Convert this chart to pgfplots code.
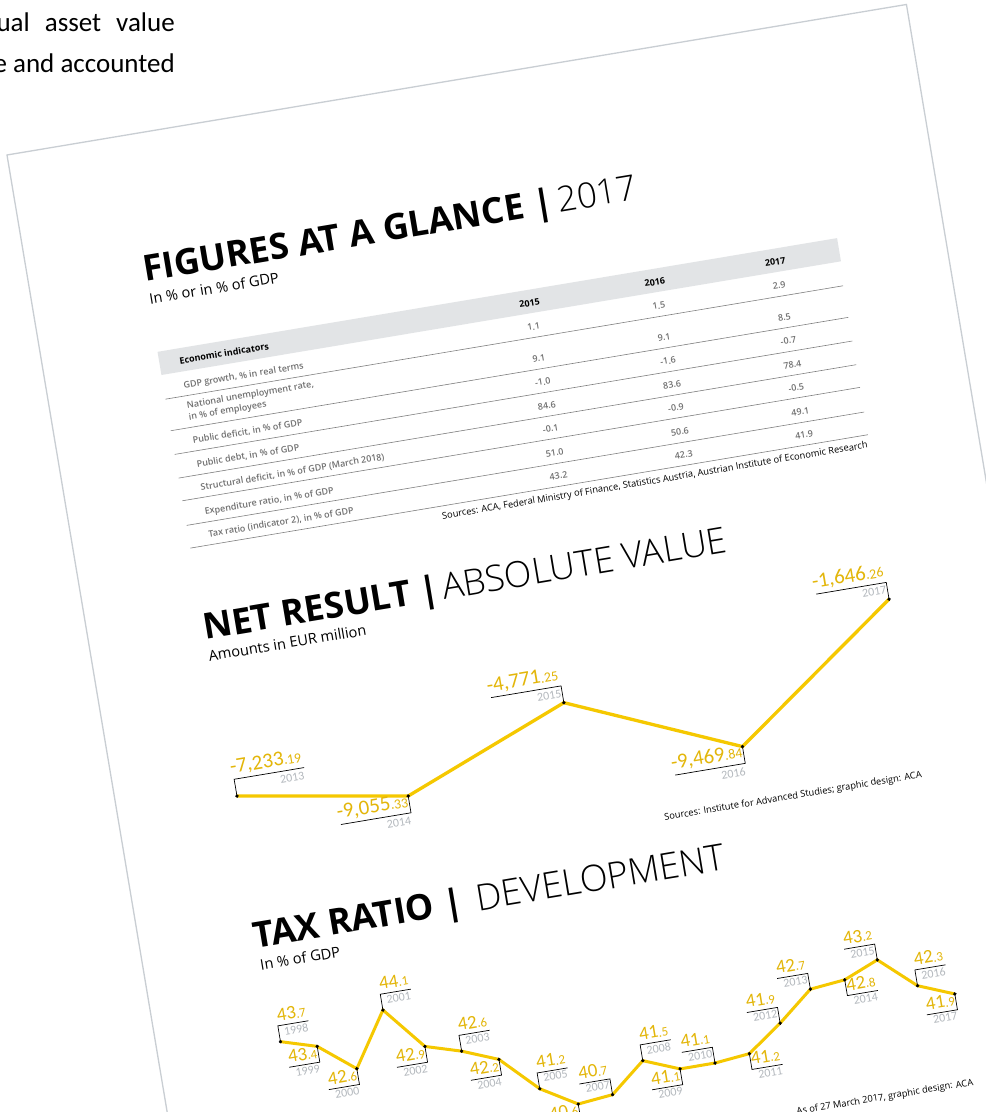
\documentclass[border=0pt]{standalone}
\usepackage{fontspec}
\setmainfont{Open Sans}
\newfontfamily\lightfont{Open Sans Light}
\newfontfamily\semifont{Open Sans Semibold}
\newfontfamily\calfont{Carlito}
\usepackage{pgfplots}
\usepackage{pgfplotstable}
\pgfplotsset{compat=1.18}

\definecolor{pageedge}{HTML}{C9CED3}
\definecolor{band}{HTML}{E2E4E6}
\definecolor{tabtxt}{HTML}{707070}
\definecolor{rule}{HTML}{808080}
\definecolor{aca}{HTML}{F5C800}
\definecolor{acatxt}{HTML}{E3B60A}
\definecolor{yrtxt}{HTML}{B3B8BD}

\newcommand\fs[1]{\fontsize{#1}{#1}\selectfont}

% net result, EUR million; h = side of the underline, v = bracket up or down
\pgfplotstableread{
x y h v
2013 -7233.19 1 1
2014 -9055.33 -1 -1
2015 -4771.25 -1 1
2016 -9469.84 -1 -1
2017 -1646.26 -1 1
}\netdata

% tax ratio, % of GDP
\pgfplotstableread{
x y h v
1998 43.7 1 1
1999 43.4 -1 -1
2000 42.6 -1 -1
2001 44.1 1 1
2002 42.9 -1 -1
2003 42.6 1 1
2004 42.2 -1 -1
2005 41.2 1 1
2006 40.6 -1 -1
2007 40.7 -1 1
2008 41.5 1 1
2009 41.1 -1 -1
2010 41.1 -1 1
2011 41.2 1 -1
2012 41.9 -1 1
2013 42.7 -1 1
2014 42.8 1 -1
2015 43.2 -1 1
2016 42.3 1 1
2017 41.9 -1 -1
}\taxdata

% bracket, value and year at every point
\pgfplotsset{
  callout/.style 2 args={
    scatter, only marks, mark=*, mark size=1.5pt, black,
    point meta=y,
    visualization depends on={\thisrow{h} \as \vH},
    visualization depends on={\thisrow{v} \as \vV},
    visualization depends on={\thisrow{x} \as \vX},
    visualization depends on={\thisrow{y} \as \vY},
    scatter/@pre marker code/.code={%
      \scope
      \pgfmathsetmacro\by{\vV*#1}%
      \pgfmathsetmacro\hx{\vH*#2}%
      \pgfmathsetmacro\rx{max(0,\hx)-1}%
      \pgfmathtruncatemacro\vI{\vY}%
      \pgfmathsetmacro\vD{abs(\vY-(\vI))}%
      \pgfmathtruncatemacro\vYear{\vX}%
      \draw[black, line width=0.7pt] (0pt,0pt) -- (0pt,\by pt) -- (\hx pt,\by pt);
      \node[anchor=base east, inner sep=0pt, text=acatxt]
        at (\rx pt,{\by pt+\gapV}) {\calfont\valA
          \pgfmathprintnumber[assume math mode=true, int detect, 1000 sep={,}]{\vI}%
          \valB\pgfmathprintnumber[assume math mode=true, fixed, fixed zerofill,
            precision=\decP, skip 0.]{\vD}};
      \node[anchor=north east, inner sep=0pt, text=yrtxt]
        at (\rx pt,{\by pt-\gapY}) {\calfont\yrF\vYear};
    },
    scatter/@post marker code/.code={\endscope},
  },
}

\begin{document}
\begin{tikzpicture}[x=1pt, y=1pt]
\useasboundingbox (0,0) rectangle (986,1112);
\clip (0,0) rectangle (986,1112);
\fill[white] (0,0) rectangle (986,1112);

% text of the page underneath
\node[anchor=base east, inner sep=0pt] at (175,1080.3)
  {\calfont\fs{27}ual\hspace{15pt}asset\hspace{15pt}value};
\node[anchor=base east, inner sep=0pt] at (175,1039.3)
  {\calfont\fs{27}e and accounted};

\begin{scope}[shift={(7,957)}, rotate=9.5, transform shape]
\fill[white] (0,-1400) rectangle (912,0);
\draw[pageedge, line width=1.3pt] (0,-1400) -- (0,0) -- (912,0) -- (912,-1400);

% FIGURES AT A GLANCE
\node[anchor=base west, inner sep=0pt] at (115,-148)
  {{\fs{35.8}\bfseries FIGURES AT A GLANCE |}\hspace{5pt}{\lightfont\fs{35}2017}};
\node[anchor=base west, inner sep=0pt] at (116.5,-171) {\fs{14.6}In \% or in \% of GDP};

\fill[band] (116,-219) rectangle (805,-242.5);
\foreach \d in {267,299,323,347,370,395,418}
  \draw[rule, line width=0.6pt] (116,-\d) -- (803,-\d);

\begin{scope}[every node/.style={inner sep=0pt}]
\node[anchor=base west] at (136,-235) {\fs{9}\bfseries Economic indicators};
\node[anchor=base] at (491,-235.5) {\fs{9}\bfseries 2015};
\node[anchor=base] at (618,-235.5) {\fs{9}\bfseries 2016};
\node[anchor=base] at (740,-235.5) {\fs{9}\bfseries 2017};
\foreach \d/\lab/\a/\b/\c in {
  259.5/{GDP growth, \% in real terms}/1.1/1.5/2.9,
  315.5/{Public deficit, in \% of GDP}/-1.0/-1.6/-0.7,
  339.5/{Public debt, in \% of GDP}/84.6/83.6/78.4,
  363/{Structural deficit, in \% of GDP (March 2018)}/-0.1/-0.9/-0.5,
  387.5/{Expenditure ratio, in \% of GDP}/51.0/50.6/49.1,
  410.5/{Tax ratio (indicator 2), in \% of GDP}/43.2/42.3/41.9}{
  \node[anchor=base west, text=tabtxt] at (136,-\d) {\semifont\fs{9}\lab};
  \node[anchor=base, text=tabtxt] at (491,-\d) {\semifont\fs{9}\a};
  \node[anchor=base, text=tabtxt] at (618,-\d) {\semifont\fs{9}\b};
  \node[anchor=base, text=tabtxt] at (740,-\d) {\semifont\fs{9}\c};
}
\node[anchor=base west, text=tabtxt] at (136,-279.5) {\semifont\fs{9}National unemployment rate,};
\node[anchor=base west, text=tabtxt] at (136,-291.5) {\semifont\fs{9}in \% of employees};
\node[anchor=base, text=tabtxt] at (491,-291.5) {\semifont\fs{9}9.1};
\node[anchor=base, text=tabtxt] at (618,-291.5) {\semifont\fs{9}9.1};
\node[anchor=base, text=tabtxt] at (740,-291.5) {\semifont\fs{9}8.5};
\node[anchor=base east] at (801,-431)
  {\fs{9.3}Sources: ACA, Federal Ministry of Finance, Statistics Austria, Austrian Institute of Economic Research};

% NET RESULT
\node[anchor=base west] at (115.5,-511)
  {{\fs{35.8}\bfseries NET RESULT |}\hspace{3pt}{\lightfont\fs{36}ABSOLUTE VALUE}};
\node[anchor=base west] at (116,-533) {\fs{14.6}Amounts in EUR million};
\node[anchor=base east] at (800,-765)
  {\fs{9.3}Sources: Institute for Advanced Studies; graphic design: ACA};

% TAX RATIO
\node[anchor=base west] at (114,-823.5)
  {{\fs{35.8}\bfseries TAX RATIO |}\hspace{14pt}{\lightfont\fs{36.5}DEVELOPMENT}};
\node[anchor=base west] at (116,-846) {\fs{14.7}In \% of GDP};
\node[anchor=base east] at (800,-1077)
  {\fs{9.3}As of 27 March 2017, graphic design: ACA};
\end{scope}

\def\valA{\fs{21}}\def\valB{\fs{14}}\def\yrF{\fs{12}}\def\gapV{6pt}\def\gapY{3.5pt}\def\decP{2}
\begin{axis}[at={(121pt,-704.9pt)}, anchor=south west, hide axis, scale only axis,
  width=675.7pt, height=121.2pt, xmin=2013, xmax=2017,
  ymin=-9469.84, ymax=-1646.26, clip=false]
\addplot[aca, line width=3.3pt, no marks] table[x=x, y=y] {\netdata};
\addplot[callout={17}{71}] table[x=x, y=y] {\netdata};
\end{axis}

\def\valA{\fs{19}}\def\valB{\fs{13}}\def\yrF{\fs{12}}\def\gapV{4.5pt}\def\gapY{2pt}\def\decP{1}
\begin{axis}[at={(123.4pt,-1030.35pt)}, anchor=south west, hide axis, scale only axis,
  width=673pt, height=124.95pt, xmin=1998, xmax=2017,
  ymin=40.6, ymax=44.1, clip=false]
\addplot[aca, line width=3pt, no marks] table[x=x, y=y] {\taxdata};
\addplot[callout={16}{31}] table[x=x, y=y] {\taxdata};
\end{axis}
\end{scope}
\end{tikzpicture}
\end{document}
